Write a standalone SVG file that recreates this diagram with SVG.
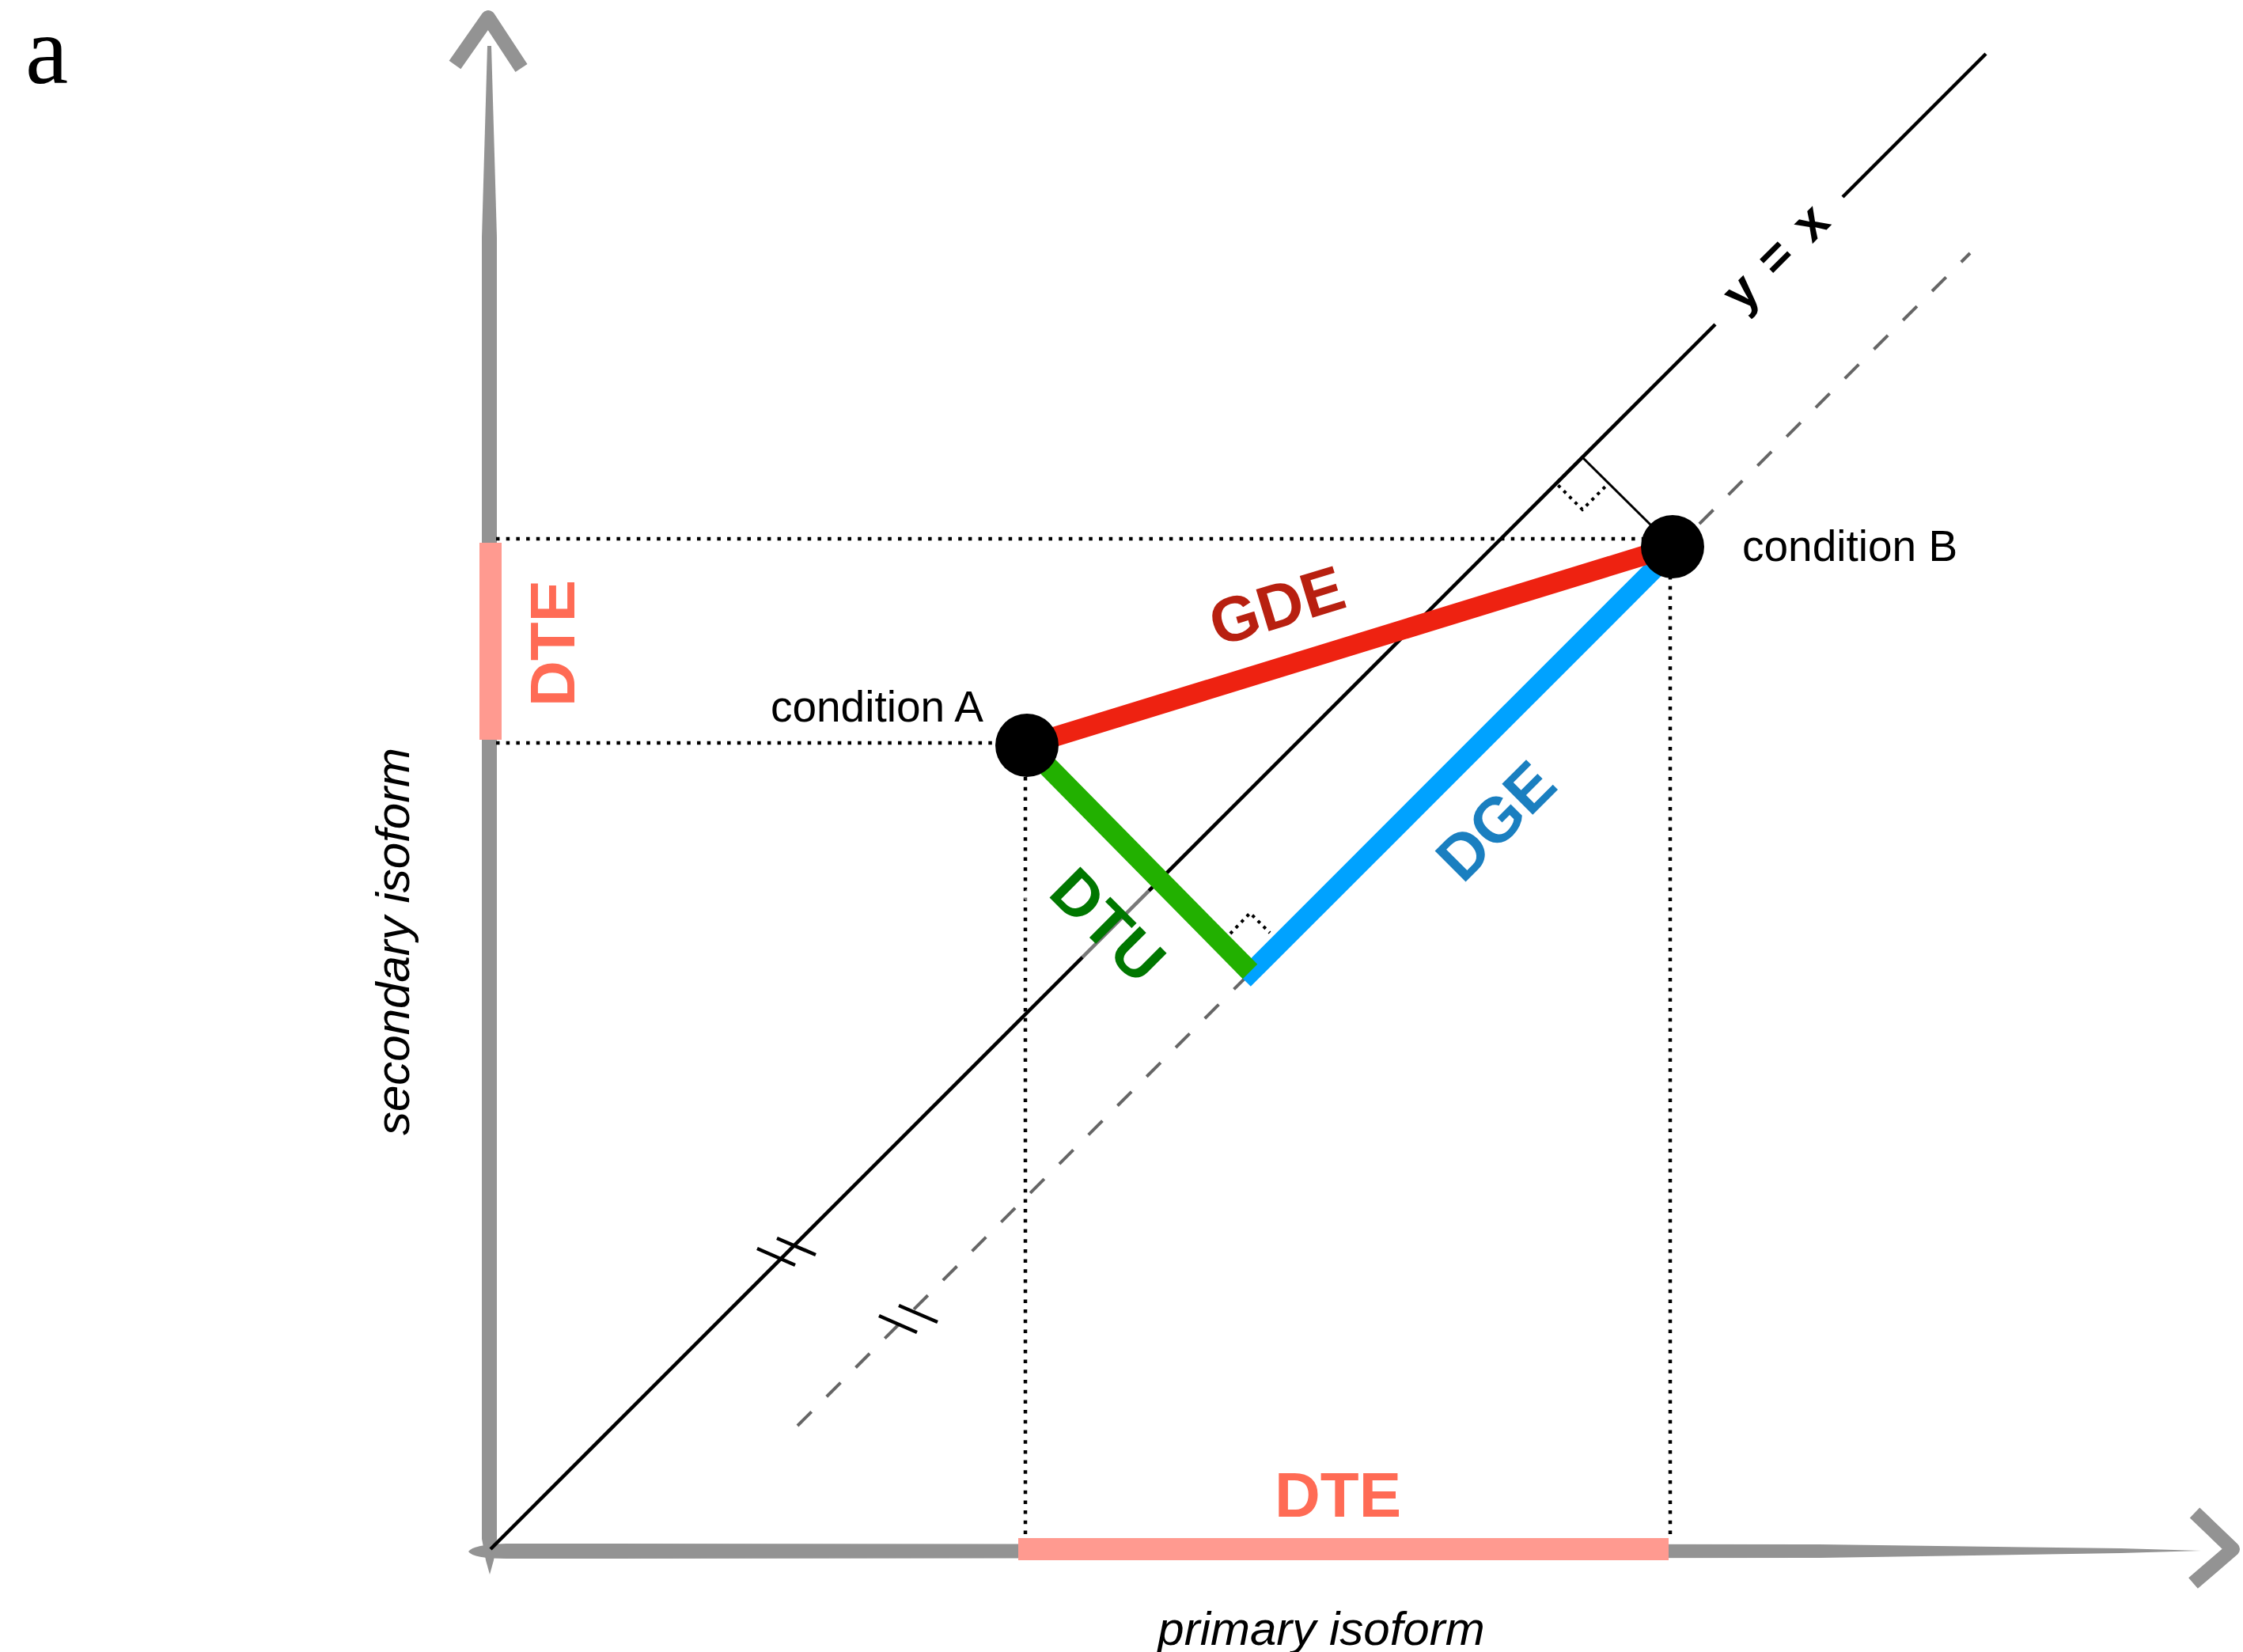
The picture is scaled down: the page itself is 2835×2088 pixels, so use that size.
<svg xmlns="http://www.w3.org/2000/svg" width="2835" height="2088" viewBox="0 0 2835 2088">
<style>
.sans{font-family:"Liberation Sans",Arial,Helvetica,sans-serif}
.bold{font-weight:bold}
.dot{fill:none;stroke:#000;stroke-width:4.5;stroke-dasharray:4.5 8.2}
.axis{fill:#939393}
.chev{fill:none;stroke:#939393;stroke-width:18;stroke-linejoin:round}
.tick{stroke:#000;stroke-width:4.5}
.dte{fill:#FF9A90}
.dtetxt{fill:#FF6B55;font-size:80px}
.cond{font-size:55px;fill:#000}
.ax{font-size:60px;font-style:italic;fill:#000}
.pt{fill:#000}
</style>
<rect width="2835" height="2088" fill="#fff"/>
<text x="32" y="105" font-family="Liberation Serif, Times New Roman, serif" font-size="122">a</text>

<g id="axes">
  <path class="axis" d="M616,58 L621,58 L628,300 L628,1945 L624,1972 L619,1990 L614,1972 L609,1945 L609,300 Z"/>
  <polyline class="chev" points="575,82 617,22 659,86"/>
  <path class="axis" d="M592,1961 Q598,1952 640,1951 L2300,1952 L2680,1957 L2782,1960 L2680,1963 L2300,1969 L640,1970 Q598,1970 592,1961 Z"/>
  <polyline class="chev" points="2774,1912 2822,1958 2772,2001"/>
  <text class="sans ax" transform="translate(517,1190) rotate(-90)" text-anchor="middle">secondary isoform</text>
  <text class="sans ax" x="1670" y="2079" text-anchor="middle">primary isoform</text>
</g>

<g id="guides">
  <line class="dot" x1="627" y1="681" x2="2076" y2="681"/>
  <line class="dot" x1="627" y1="939" x2="1262" y2="939"/>
  <line class="dot" x1="1296" y1="982" x2="1296" y2="1944"/>
  <line class="dot" x1="2111" y1="728" x2="2111" y2="1944"/>
</g>

<g id="dte-bars">
  <rect class="dte" x="606" y="686" width="28" height="249"/>
  <rect class="dte" x="1287" y="1944" width="822" height="28"/>
  <text class="sans bold dtetxt" transform="translate(726,813) rotate(-90)" text-anchor="middle">DTE</text>
  <text class="sans bold dtetxt" x="1691" y="1917" text-anchor="middle">DTE</text>
</g>

<g id="diagonal">
  <line x1="620" y1="1958" x2="2168" y2="410" stroke="#000" stroke-width="4.5"/>
  <line x1="2329" y1="249" x2="2510" y2="68" stroke="#000" stroke-width="4.5"/>
  <text class="sans bold" font-size="64" word-spacing="8" transform="translate(2259,340) rotate(-45)" text-anchor="middle">y = x</text>
  <line x1="1008" y1="1802" x2="2490" y2="320" stroke="#666" stroke-width="4" stroke-dasharray="25 27"/>
  <line class="tick" x1="957" y1="1578" x2="1005" y2="1599"/>
  <line class="tick" x1="982" y1="1565" x2="1031" y2="1586"/>
  <line class="tick" x1="1111" y1="1663" x2="1159" y2="1684"/>
  <line class="tick" x1="1136" y1="1650" x2="1185" y2="1671"/>
  <line x1="2000" y1="578" x2="2090" y2="667" stroke="#000" stroke-width="3"/>
  <polyline class="dot" style="stroke-width:4;stroke-dasharray:4 6" points="2000,578 1967,611 2000,644 2033,611"/>
  <polyline class="dot" style="stroke-width:4;stroke-dasharray:4 6" points="1555,1180 1580,1154 1605,1179"/>
</g>

<g id="connectors">
  <line id="dge" x1="2114" y1="696" x2="1572" y2="1238" stroke="#00A2FF" stroke-width="25"/>
  <line id="gde" x1="1298" y1="942" x2="2114" y2="691" stroke="#EE2211" stroke-width="25"/>
  <g transform="translate(1381,1189) rotate(45)">
    <rect x="-105" y="-95" width="212" height="119" fill="#fff" fill-opacity="0.47"/>
  </g>
  <line id="dtu" x1="1298" y1="942" x2="1580" y2="1228" stroke="#22B000" stroke-width="26"/>
  <text class="sans bold" font-size="80" fill="#B82010" transform="translate(1622,792) rotate(-17)" text-anchor="middle">GDE</text>
  <text class="sans bold" font-size="80" fill="#1A7FC0" transform="translate(1910,1057) rotate(-45)" text-anchor="middle">DGE</text>
  <text class="sans bold" font-size="80" fill="#007700" transform="translate(1381,1189) rotate(45)" text-anchor="middle">DTU</text>
</g>

<g id="conditionA">
  <circle class="pt" cx="1298" cy="942" r="40"/>
  <text class="sans cond" x="1243" y="912" text-anchor="end">condition A</text>
</g>
<g id="conditionB">
  <circle class="pt" cx="2114" cy="691" r="40"/>
  <text class="sans cond" x="2202" y="709">condition B</text>
</g>
</svg>
